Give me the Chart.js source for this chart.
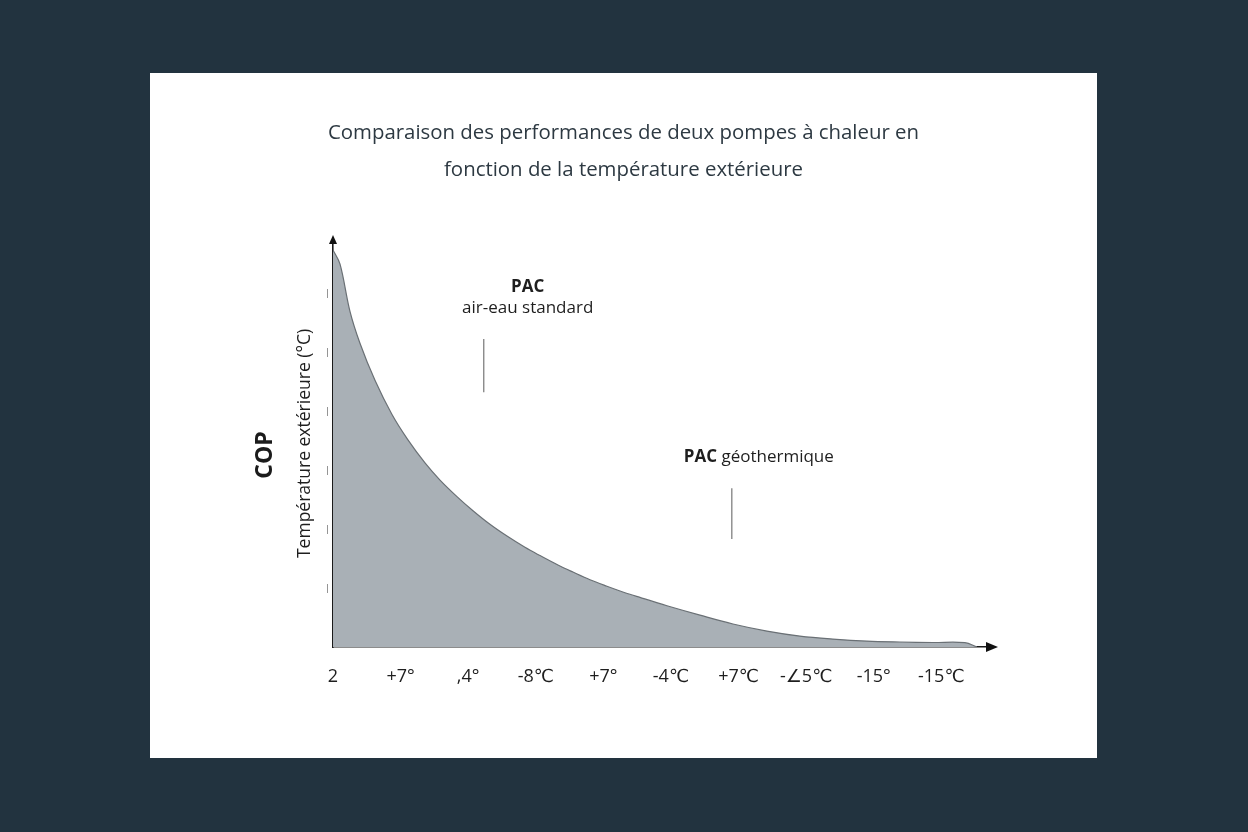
<!DOCTYPE html>
<html lang="fr">
<head>
<meta charset="utf-8">
<script src="https://cdn.jsdelivr.net/npm/chart.js@4.4.1/dist/chart.umd.min.js"></script>
<style>
  html, body { margin: 0; padding: 0; background: #22333f; width: 1248px; height: 832px; overflow: hidden; }
  #card { position: absolute; left: 150px; top: 73px; width: 947px; height: 685px; background: #ffffff; }
</style>
</head>
<body>
<div id="card"><canvas id="chart-cop"></canvas></div>
<script>
  // libellés de l'axe horizontal (tels qu'ils apparaissent)
  const tickLabels = ['2', '+7°', ',4°', '-8℃', '+7°', '-4℃', '+7℃', '-∠5℃', '-15°', '-15℃'];

  // courbe : position sur l'axe x et COP
  const positions = [0, 0.104, 0.251, 0.399, 0.621, 0.873, 1.109, 1.361, 1.583, 1.834, 2.071, 2.322, 2.574, 2.840, 3.062, 3.328, 3.550, 3.802, 4.053, 4.320, 4.541, 4.941, 5.429, 5.917, 6.420, 6.908, 7.396, 7.899, 8.388, 8.876, 9.349, 9.527];
  const copValues = [6.73, 6.49, 5.69, 5.15, 4.52, 3.94, 3.51, 3.12, 2.83, 2.55, 2.31, 2.08, 1.88, 1.69, 1.55, 1.39, 1.27, 1.14, 1.03, 0.92, 0.84, 0.70, 0.54, 0.39, 0.27, 0.185, 0.135, 0.10, 0.085, 0.076, 0.073, 0];

  const points = positions.map((p, i) => ({ x: p, y: copValues[i] }));

  const fontFamily = '"Open Sans", "DejaVu Sans", sans-serif';

  // flèches des axes, libellé COP et annotations
  const decorPlugin = {
    id: 'decor',
    afterDraw(chart) {
      const { ctx, chartArea, scales: { x, y } } = chart;
      ctx.save();
      ctx.fillStyle = '#111111';
      // flèche axe y
      ctx.beginPath();
      ctx.moveTo(chartArea.left, chartArea.top - 5);
      ctx.lineTo(chartArea.left - 4, chartArea.top + 4);
      ctx.lineTo(chartArea.left + 4, chartArea.top + 4);
      ctx.closePath();
      ctx.fill();
      // flèche axe x
      ctx.beginPath();
      ctx.moveTo(chartArea.right + 8, chartArea.bottom);
      ctx.lineTo(chartArea.right - 4, chartArea.bottom - 5);
      ctx.lineTo(chartArea.right - 4, chartArea.bottom + 5);
      ctx.closePath();
      ctx.fill();

      // COP
      ctx.save();
      ctx.translate(115, 382);
      ctx.rotate(-Math.PI / 2);
      ctx.font = 'bold 23px ' + fontFamily;
      ctx.fillStyle = '#1b1b1b';
      ctx.textAlign = 'center';
      ctx.textBaseline = 'middle';
      ctx.fillText('COP', 0, 0);
      ctx.restore();

      // annotations
      ctx.fillStyle = '#1e1e1e';
      ctx.textBaseline = 'middle';
      ctx.textAlign = 'center';
      ctx.font = 'bold 17px ' + fontFamily;
      ctx.fillText('PAC', x.getPixelForValue(2.88), y.getPixelForValue(6.10));
      ctx.font = '17px ' + fontFamily;
      ctx.fillText('air-eau standard', x.getPixelForValue(2.88), y.getPixelForValue(5.75));

      ctx.textAlign = 'left';
      ctx.font = 'bold 17px ' + fontFamily;
      const gx = x.getPixelForValue(5.19);
      const gy = y.getPixelForValue(3.22);
      ctx.fillText('PAC', gx, gy);
      const w = ctx.measureText('PAC ').width;
      ctx.font = '17px ' + fontFamily;
      ctx.fillText('géothermique', gx + w, gy);

      ctx.strokeStyle = '#8a8a8a';
      ctx.lineWidth = 1.4;
      ctx.beginPath();
      ctx.moveTo(x.getPixelForValue(2.23), y.getPixelForValue(5.22));
      ctx.lineTo(x.getPixelForValue(2.23), y.getPixelForValue(4.32));
      ctx.moveTo(x.getPixelForValue(5.90), y.getPixelForValue(2.69));
      ctx.lineTo(x.getPixelForValue(5.90), y.getPixelForValue(1.83));
      ctx.stroke();
      ctx.restore();
    }
  };

  const configCop = {
    type: 'line',
    data: {
      datasets: [{
        data: points,
        fill: 'origin',
        backgroundColor: '#a9b0b6',
        borderColor: '#6a7075',
        borderWidth: 1.2,
        pointRadius: 0,
        tension: 0.35
      }]
    },
    options: {
      responsive: true,
      maintainAspectRatio: false,
      animation: false,
      layout: { padding: { left: 107, right: 107, top: 0, bottom: 0 } },
      plugins: {
        legend: { display: false },
        tooltip: { enabled: false },
        title: {
          display: true,
          text: ['Comparaison des performances de deux pompes à chaleur en', 'fonction de la température extérieure'],
          color: '#2d3942',
          font: { family: fontFamily, size: 20.4, weight: 'normal', lineHeight: 1.8 },
          padding: { top: 42, bottom: 51.5 }
        }
      },
      scales: {
        x: {
          type: 'linear',
          min: 0,
          max: 9.72,
          afterFit: s => { s.height = 111; },
          grid: { display: false, drawTicks: false },
          border: { display: true, color: '#1a1a1a', width: 1.6 },
          ticks: {
            stepSize: 1,
            includeBounds: false,
            autoSkip: false,
            maxRotation: 0,
            padding: 19,
            color: '#1e1e1e',
            font: { family: fontFamily, size: 18 },
            callback: v => tickLabels[v] ?? ''
          }
        },
        y: {
          min: 0,
          max: 6.9,
          afterFit: s => { s.width = 76; },
          grid: { display: false, drawTicks: false },
          border: { display: true, color: '#1a1a1a', width: 1.6 },
          ticks: {
            stepSize: 1,
            includeBounds: false,
            padding: 3,
            color: '#555555',
            font: { family: fontFamily, size: 9 },
            callback: v => (v >= 1 && v <= 6) ? '|' : ''
          },
          title: {
            display: true,
            text: 'Température extérieure (°C)',
            color: '#1e1e1e',
            font: { family: fontFamily, size: 17.5 },
            padding: { top: 37.5, bottom: 0 }
          }
        }
      }
    },
    plugins: [decorPlugin]
  };

  const myChartCop = new Chart(document.getElementById('chart-cop'), configCop);
</script>
</body>
</html>
